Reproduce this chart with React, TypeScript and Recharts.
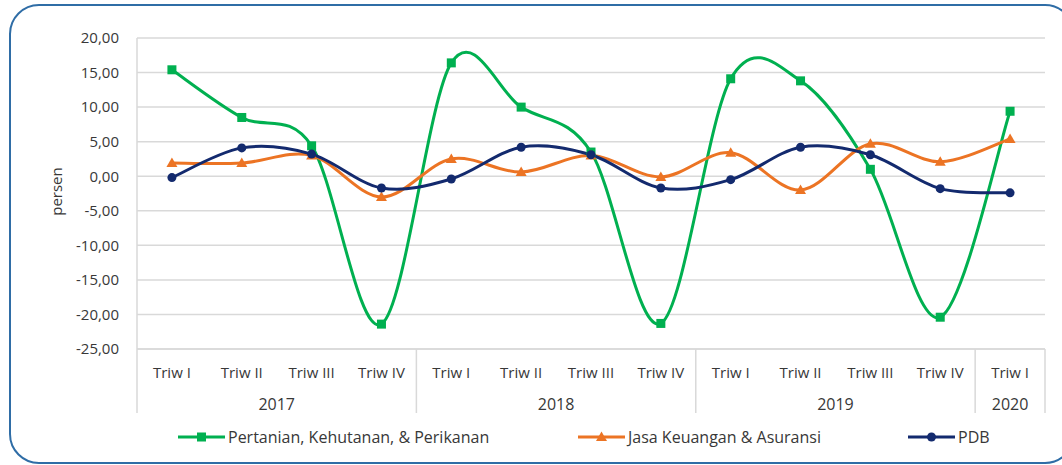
import { LineChart, Line, XAxis, YAxis, CartesianGrid, Legend } from "recharts";

const quarters = [
  "Triw I", "Triw II", "Triw III", "Triw IV",
  "Triw I", "Triw II", "Triw III", "Triw IV",
  "Triw I", "Triw II", "Triw III", "Triw IV",
  "Triw I",
];
const years = [
  "2017", "2017", "2017", "2017",
  "2018", "2018", "2018", "2018",
  "2019", "2019", "2019", "2019",
  "2020",
];
const pertanian = [15.4, 8.5, 4.4, -21.4, 16.4, 10.0, 3.5, -21.3, 14.1, 13.8, 1.0, -20.4, 9.4];
const jasaKeuangan = [1.9, 1.9, 3.0, -3.0, 2.5, 0.6, 3.0, -0.1, 3.4, -2.0, 4.7, 2.1, 5.4];
const pdb = [-0.2, 4.1, 3.2, -1.7, -0.4, 4.2, 3.1, -1.7, -0.5, 4.2, 3.1, -1.8, -2.4];
const yTicks = [20, 15, 10, 5, 0, -5, -10, -15, -20, -25];

const GREEN = "#00b050";
const ORANGE = "#ec7424";
const NAVY = "#132a6e";
const GRID = "#d9d9d9";
const TEXT = "#383838";
const FONT = "'Open Sans', 'Liberation Sans', sans-serif";

const W = 1062;
const H = 465;
const margin = { top: 38, right: 17, bottom: 0, left: 30 };
const Y_AXIS_W = 107;
const Q_AXIS_H = 36;
const YEAR_AXIS_H = 28;
const STEP = (W - margin.left - margin.right - Y_AXIS_W) / quarters.length;

const data = quarters.map((q, i) => ({
  period: `${q} ${years[i]}`,
  pertanian: pertanian[i],
  jasa: jasaKeuangan[i],
  pdb: pdb[i],
}));

const fmt = (v: number) => v.toFixed(2).replace(".", ",");

// smoothed line like the spreadsheet one (catmull-rom through the points)
const smoothCurve = (context: any) => {
  let pts: number[][] = [];
  return {
    areaStart() {},
    areaEnd() {},
    lineStart() {
      pts = [];
    },
    point(x: number, y: number) {
      pts.push([+x, +y]);
    },
    lineEnd() {
      const n = pts.length;
      if (!n) return;
      context.moveTo(pts[0][0], pts[0][1]);
      for (let i = 0; i < n - 1; i++) {
        const p0 = pts[Math.max(i - 1, 0)];
        const p1 = pts[i];
        const p2 = pts[i + 1];
        const p3 = pts[Math.min(i + 2, n - 1)];
        context.bezierCurveTo(
          p1[0] + (p2[0] - p0[0]) / 6,
          p1[1] + (p2[1] - p0[1]) / 6,
          p2[0] - (p3[0] - p1[0]) / 6,
          p2[1] - (p3[1] - p1[1]) / 6,
          p2[0],
          p2[1]
        );
      }
    },
  };
};

function Marker({ shape, cx, cy, color }: { shape: string; cx: number; cy: number; color: string }) {
  if (shape === "square") {
    return <rect x={cx - 4.5} y={cy - 4.5} width={9} height={9} fill={color} />;
  }
  if (shape === "triangle") {
    return <path d={`M${cx},${cy - 5.5}L${cx + 5.5},${cy + 4}L${cx - 5.5},${cy + 4}Z`} fill={color} />;
  }
  return <circle cx={cx} cy={cy} r={4.5} fill={color} />;
}

const makeDot = (shape: string, color: string) => (props: any) => (
  <Marker key={`${shape}-${props.index}`} shape={shape} cx={props.cx} cy={props.cy} color={color} />
);

const legendItems = [
  { name: "Pertanian, Kehutanan, & Perikanan", color: GREEN, shape: "square", left: 178 },
  { name: "Jasa Keuangan & Asuransi", color: ORANGE, shape: "triangle", left: 578 },
  { name: "PDB", color: NAVY, shape: "circle", left: 908 },
];

function LegendContent() {
  return (
    <div style={{ position: "relative", width: W, height: 52 }}>
      {legendItems.map((item) => (
        <div
          key={item.name}
          style={{
            position: "absolute",
            left: item.left,
            top: 14,
            height: 20,
            display: "flex",
            alignItems: "center",
          }}
        >
          <svg width={47} height={20}>
            <line x1={0} x2={47} y1={10} y2={10} stroke={item.color} strokeWidth={3} />
            <Marker shape={item.shape} cx={23.5} cy={10} color={item.color} />
          </svg>
          <span style={{ marginLeft: 3, fontSize: 16, color: TEXT, fontFamily: FONT }}>{item.name}</span>
        </div>
      ))}
    </div>
  );
}

function QuarterTick({ x, y, payload, index }: any) {
  const i = index ?? payload.index;
  return (
    <text x={x} y={y + 24} dy="0.35em" textAnchor="middle" fill={TEXT} fontSize={15} fontFamily={FONT}>
      {quarters[i]}
    </text>
  );
}

function YearTick({ x, y, payload, index }: any) {
  const i = index ?? payload.index;
  const first = i === 0 || years[i] !== years[i - 1];
  const last = i === years.length - 1;
  const groupLen = years.filter((v) => v === years[i]).length;
  const top = y - Q_AXIS_H;
  const bottom = y + YEAR_AXIS_H;
  return (
    <g>
      {first && <line x1={x - STEP / 2} x2={x - STEP / 2} y1={top} y2={bottom} stroke={GRID} strokeWidth={1.5} />}
      {last && <line x1={x + STEP / 2} x2={x + STEP / 2} y1={top} y2={bottom} stroke={GRID} strokeWidth={1.5} />}
      {first && (
        <text
          x={x + ((groupLen - 1) * STEP) / 2}
          y={y + 19}
          dy="0.35em"
          textAnchor="middle"
          fill={TEXT}
          fontSize={16}
          fontFamily={FONT}
        >
          {years[i]}
        </text>
      )}
    </g>
  );
}

function YLabel({ viewBox }: any) {
  const cx = viewBox.x + 27;
  const cy = viewBox.y + viewBox.height / 2 - 2;
  return (
    <text
      x={cx}
      y={cy}
      dy="0.35em"
      textAnchor="middle"
      transform={`rotate(-90 ${cx} ${cy})`}
      fill={TEXT}
      fontSize={15}
      fontFamily={FONT}
    >
      persen
    </text>
  );
}

export default function App() {
  return (
    <div
      style={{
        position: "absolute",
        left: 0,
        top: 0,
        width: W,
        height: H,
        overflow: "hidden",
        background: "#fff",
      }}
    >
      <div
        style={{
          position: "absolute",
          left: 9,
          top: 4,
          width: 1066,
          height: 460,
          boxSizing: "border-box",
          border: "2px solid #2f6da6",
          borderRadius: 30,
        }}
      />
      <div style={{ position: "absolute", left: 0, top: 0 }}>
        <LineChart width={W} height={H} data={data} margin={margin}>
          <CartesianGrid vertical={false} stroke={GRID} strokeWidth={1.5} />
          <XAxis
            xAxisId="q"
            dataKey="period"
            scale="band"
            interval={0}
            height={Q_AXIS_H}
            tickSize={0}
            tickMargin={0}
            tickLine={false}
            axisLine={{ stroke: GRID, strokeWidth: 1.5 }}
            tick={<QuarterTick />}
          />
          <XAxis
            xAxisId="year"
            dataKey="period"
            scale="band"
            interval={0}
            height={YEAR_AXIS_H}
            tickSize={0}
            tickMargin={0}
            tickLine={false}
            axisLine={false}
            tick={<YearTick />}
          />
          <YAxis
            domain={[-25, 20]}
            ticks={yTicks}
            interval={0}
            width={Y_AXIS_W}
            tickSize={0}
            tickMargin={18}
            tickLine={false}
            axisLine={{ stroke: GRID, strokeWidth: 1.5 }}
            tickFormatter={fmt}
            tick={{ fill: TEXT, fontSize: 15, fontFamily: FONT }}
            label={<YLabel />}
          />
          <Legend
            verticalAlign="bottom"
            content={<LegendContent />}
            wrapperStyle={{ left: 0, width: W, height: 52 }}
          />
          <Line
            xAxisId="q"
            type={smoothCurve as any}
            dataKey="pertanian"
            name="Pertanian, Kehutanan, & Perikanan"
            stroke={GREEN}
            strokeWidth={3}
            dot={makeDot("square", GREEN)}
            isAnimationActive={false}
          />
          <Line
            xAxisId="q"
            type={smoothCurve as any}
            dataKey="jasa"
            name="Jasa Keuangan & Asuransi"
            stroke={ORANGE}
            strokeWidth={3}
            dot={makeDot("triangle", ORANGE)}
            isAnimationActive={false}
          />
          <Line
            xAxisId="q"
            type={smoothCurve as any}
            dataKey="pdb"
            name="PDB"
            stroke={NAVY}
            strokeWidth={3}
            dot={makeDot("circle", NAVY)}
            isAnimationActive={false}
          />
        </LineChart>
      </div>
    </div>
  );
}
